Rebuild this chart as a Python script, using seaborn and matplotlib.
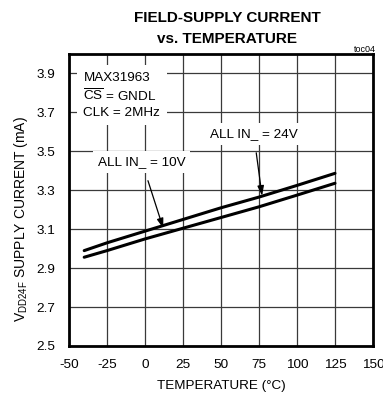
import matplotlib
matplotlib.use("Agg")
import matplotlib.pyplot as plt
from matplotlib import font_manager
import seaborn as sns
import pandas as pd

# Temperature sweep and supply current for the two field-input voltages
temperature_c = [-40, -25, 0, 25, 50, 75, 100, 125]
current_24v = [2.990, 3.030, 3.090, 3.150, 3.210, 3.265, 3.325, 3.387]
current_10v = [2.956, 2.990, 3.050, 3.105, 3.160, 3.215, 3.275, 3.336]
series_labels = ["ALL IN_ = 24V", "ALL IN_ = 10V"]

x_ticks = [-50, -25, 0, 25, 50, 75, 100, 125, 150]
y_ticks = [2.5, 2.7, 2.9, 3.1, 3.3, 3.5, 3.7, 3.9]

sns.set_theme(style="white")

names = {f.name for f in font_manager.fontManager.ttflist}
family = "Liberation Sans Narrow" if "Liberation Sans Narrow" in names else "Liberation Sans"
plt.rcParams["font.family"] = [family, "DejaVu Sans"]
plt.rcParams["mathtext.fontset"] = "custom"
plt.rcParams["mathtext.rm"] = family
plt.rcParams["mathtext.it"] = family
plt.rcParams["mathtext.default"] = "rm"
plt.rcParams["text.color"] = "black"
plt.rcParams["axes.labelcolor"] = "black"

FS = 9.7

df = pd.DataFrame({
    "temp": temperature_c * 2,
    "current": current_24v + current_10v,
    "series": [series_labels[0]] * len(temperature_c) + [series_labels[1]] * len(temperature_c),
})

fig = plt.figure(figsize=(3.83, 4.05), dpi=100)
ax = fig.add_axes([69 / 383, 1 - 346 / 405, 304 / 383, 292 / 405])

sns.lineplot(data=df, x="temp", y="current", units="series", estimator=None,
             color="black", linewidth=2.2, legend=False, ax=ax, zorder=3)

ax.set_xlim(-50, 150)
ax.set_ylim(2.5, 4.0)
ax.set_xticks(x_ticks)
ax.set_yticks(y_ticks)
ax.set_xticklabels([str(v) for v in x_ticks])
ax.set_yticklabels([f"{v:.1f}" for v in y_ticks])
ax.grid(True, color="#3a3a3a", linewidth=0.9, zorder=0)
ax.tick_params(length=0, labelsize=FS, colors="black")
ax.tick_params(axis="y", pad=10)
ax.tick_params(axis="x", pad=9)
for side in ax.spines.values():
    side.set_visible(True)
    side.set_color("black")
    side.set_linewidth(2.0)
    side.set_zorder(5)

ax.set_xlabel("TEMPERATURE (°C)", fontsize=FS, labelpad=7, color="black")
ax.set_ylabel(r"V$_{\mathrm{DD24F}}$ SUPPLY CURRENT (mA)", fontsize=10,
              color="black")
ax.yaxis.set_label_coords(-0.127, 0.435)

box = dict(boxstyle="square,pad=0.35", facecolor="white", edgecolor="none")

# Operating conditions block
ax.text(-40.5, 3.91, "MAX31963\n" + r"$\overline{\mathrm{CS}}$ = GNDL" + "\nCLK = 2MHz",
        fontsize=FS, va="top", ha="left", linespacing=1.3,
        bbox=dict(boxstyle="square,pad=0.5", facecolor="white", edgecolor="none"),
        zorder=4)

# Series callouts with arrows
ax.annotate(series_labels[0], xy=(77, 3.272), xytext=(71.5, 3.59),
            fontsize=FS, ha="center", va="center", bbox=box, zorder=4,
            arrowprops=dict(arrowstyle="-|>,head_length=0.6,head_width=0.2",
                            color="black", lw=0.9, shrinkA=6, shrinkB=0))
ax.annotate(series_labels[1], xy=(12, 3.105), xytext=(-2, 3.445),
            fontsize=FS, ha="center", va="center", bbox=box, zorder=4,
            arrowprops=dict(arrowstyle="-|>,head_length=0.6,head_width=0.2",
                            color="black", lw=0.9, shrinkA=6, shrinkB=0))

fig.text(227 / 383, 1 - 18 / 405, "FIELD-SUPPLY CURRENT", ha="center", va="center",
         fontsize=11, fontweight="bold")
fig.text(227 / 383, 1 - 39 / 405, "vs. TEMPERATURE", ha="center", va="center",
         fontsize=11, fontweight="bold")
fig.text(365 / 383, 1 - 49 / 405, "toc04", ha="center", va="center", fontsize=6.5)

fig.savefig("out.png", dpi=100)
